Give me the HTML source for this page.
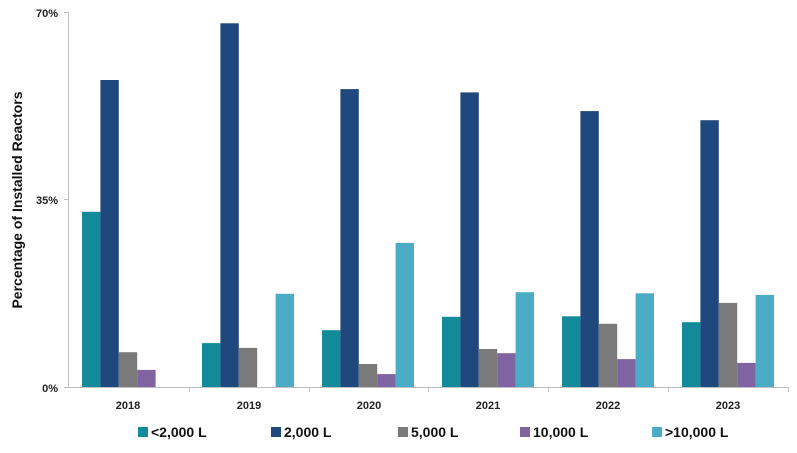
<!DOCTYPE html>
<html><head><style>body{margin:0;background:#fff}</style></head><body>
<svg width="797" height="448" xmlns="http://www.w3.org/2000/svg" font-family="Liberation Sans, sans-serif">
<rect width="797" height="448" fill="#fff"/>
<g stroke="#bfbfbf" stroke-width="1">
<line x1="68.5" y1="12" x2="68.5" y2="387"/>
<line x1="64" y1="12.5" x2="68" y2="12.5"/>
<line x1="64" y1="199.5" x2="68" y2="199.5"/>
<line x1="64" y1="387.5" x2="789" y2="387.5"/>
<line x1="189.5" y1="387" x2="189.5" y2="392"/>
<line x1="309.5" y1="387" x2="309.5" y2="392"/>
<line x1="428.5" y1="387" x2="428.5" y2="392"/>
<line x1="548.5" y1="387" x2="548.5" y2="392"/>
<line x1="668.5" y1="387" x2="668.5" y2="392"/>
<line x1="788.5" y1="387" x2="788.5" y2="392"/>
</g>
<g font-size="11" font-weight="bold" fill="#222" text-anchor="end">
<text x="58" y="17">70%</text><text x="58" y="204">35%</text><text x="58" y="392">0%</text>
</g>
<text transform="translate(22,200) rotate(-90)" font-size="14" font-weight="bold" fill="#111" text-anchor="middle">Percentage of Installed Reactors</text>
<g>
<rect x="82" y="211.8" width="18.4" height="175.2" fill="#138a99"/>
<rect x="100.4" y="80" width="18.4" height="307" fill="#1f497d"/>
<rect x="118.8" y="352.2" width="18.4" height="34.8" fill="#7a7a7a"/>
<rect x="137.2" y="369.9" width="18.4" height="17.1" fill="#8064a2"/>

<rect x="202" y="343.1" width="18.4" height="43.9" fill="#138a99"/>
<rect x="220.4" y="23.3" width="18.4" height="363.7" fill="#1f497d"/>
<rect x="238.8" y="347.9" width="18.4" height="39.1" fill="#7a7a7a"/>
<rect x="275.6" y="293.8" width="18.4" height="93.2" fill="#4bacc6"/>

<rect x="322" y="330.2" width="18.4" height="56.8" fill="#138a99"/>
<rect x="340.4" y="89.1" width="18.4" height="297.9" fill="#1f497d"/>
<rect x="358.8" y="364" width="18.4" height="23" fill="#7a7a7a"/>
<rect x="377.2" y="374.1" width="18.4" height="12.9" fill="#8064a2"/>
<rect x="395.6" y="242.9" width="18.4" height="144.1" fill="#4bacc6"/>

<rect x="442" y="316.8" width="18.4" height="70.2" fill="#138a99"/>
<rect x="460.4" y="92.4" width="18.4" height="294.6" fill="#1f497d"/>
<rect x="478.8" y="349" width="18.4" height="38" fill="#7a7a7a"/>
<rect x="497.2" y="353.2" width="18.4" height="33.8" fill="#8064a2"/>
<rect x="515.6" y="292.2" width="18.4" height="94.8" fill="#4bacc6"/>

<rect x="562" y="316.3" width="18.4" height="70.7" fill="#138a99"/>
<rect x="580.4" y="111.1" width="18.4" height="275.9" fill="#1f497d"/>
<rect x="598.8" y="323.8" width="18.4" height="63.2" fill="#7a7a7a"/>
<rect x="617.2" y="359.1" width="18.4" height="27.9" fill="#8064a2"/>
<rect x="635.6" y="293.3" width="18.4" height="93.7" fill="#4bacc6"/>

<rect x="682" y="322.2" width="18.4" height="64.8" fill="#138a99"/>
<rect x="700.4" y="120.2" width="18.4" height="266.8" fill="#1f497d"/>
<rect x="718.8" y="302.9" width="18.4" height="84.1" fill="#7a7a7a"/>
<rect x="737.2" y="362.9" width="18.4" height="24.1" fill="#8064a2"/>
<rect x="755.6" y="294.9" width="18.4" height="92.1" fill="#4bacc6"/>
</g>
<g font-size="11" font-weight="bold" fill="#222" text-anchor="middle">
<text x="128" y="409">2018</text><text x="249" y="409">2019</text><text x="369" y="409">2020</text>
<text x="488" y="409">2021</text><text x="608" y="409">2022</text><text x="728" y="409">2023</text>
</g>
<g font-size="14" font-weight="bold" fill="#111">
<rect x="138" y="427" width="10" height="10" fill="#138a99"/><text x="151" y="437">&lt;2,000 L</text>
<rect x="271" y="427" width="10" height="10" fill="#1f497d"/><text x="284" y="437">2,000 L</text>
<rect x="398" y="427" width="10" height="10" fill="#7a7a7a"/><text x="411" y="437">5,000 L</text>
<rect x="520" y="427" width="10" height="10" fill="#8064a2"/><text x="533" y="437">10,000 L</text>
<rect x="652" y="427" width="10" height="10" fill="#4bacc6"/><text x="665" y="437">&gt;10,000 L</text>
</g>
</svg>
</body></html>
